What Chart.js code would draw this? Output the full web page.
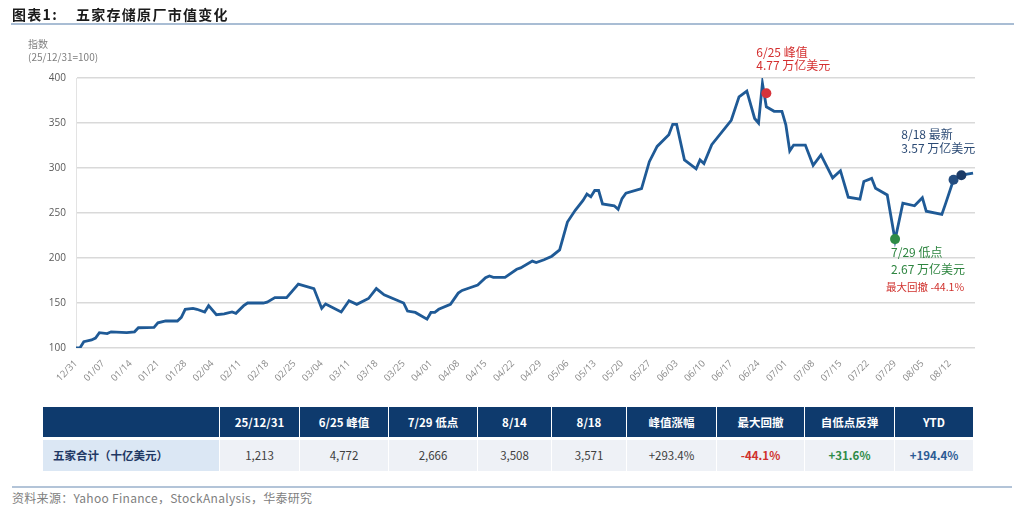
<!DOCTYPE html>
<html>
<head>
<meta charset="utf-8">
<script src="https://cdn.jsdelivr.net/npm/chart.js@4"></script>
<style>
  body { margin: 0; background: #fff; font-family: 'Noto Sans CJK SC', 'Noto Sans', sans-serif; }
  #page { position: relative; width: 1024px; height: 511px; overflow: hidden; }
  #title { position: absolute; left: 12px; top: 4px; font-size: 14px; font-weight: 700; color: #1a1a1a; letter-spacing: 1.3px; }
  #titleLine { position: absolute; left: 11px; top: 23px; width: 1003px; height: 2px; background: #a9bdd4; }
  #chartBox { position: absolute; left: 0; top: 0; width: 1024px; height: 400px; }
  #yTitle { position: absolute; left: 28px; top: 37px; font-size: 10px; line-height: 13px; color: #7f7f7f; }
  #dataTable { position: absolute; left: 42px; top: 403.5px; border-collapse: separate; border-spacing: 1px 3px; font-size: 11.5px; }
  #dataTable th { background: #0e3a6d; color: #fff; font-weight: 700; height: 30px; padding: 0; text-align: center; }
  #dataTable td { background: #eef1f6; color: #404040; height: 31px; padding: 0; text-align: center; }
  #dataTable td.rowHead { background: #dbe7f4; color: #1f3864; font-weight: 700; text-align: left; padding-left: 10px; }
  #dataTable td.neg { color: #d0312d; font-weight: 700; }
  #dataTable td.pos { color: #2e8b47; font-weight: 700; }
  #dataTable td.ytd { color: #2b5a94; font-weight: 700; }
  #bottomLine { position: absolute; left: 12px; top: 486px; width: 1000px; height: 2px; background: #b3c4d8; }
  #source { position: absolute; left: 12px; top: 489px; font-size: 12px; color: #808080; letter-spacing: 0.3px; }
</style>
</head>
<body>
<div id="page">
  <div id="chartBox"><canvas id="marketCapChart"></canvas></div>
  <div id="title">图表1:&nbsp;&nbsp;&nbsp; 五家存储原厂市值变化</div>
  <div id="titleLine"></div>
  <div id="yTitle">指数<br>(25/12/31=100)</div>
  <table id="dataTable">
    <thead><tr id="headRow"></tr></thead>
    <tbody><tr id="valueRow"></tr></tbody>
  </table>
  <div id="bottomLine"></div>
  <div id="source">资料来源：Yahoo Finance，StockAnalysis，华泰研究</div>
</div>
<script>
// days since 2025/12/31, index (25/12/31 = 100)
var days = [0, 1, 2, 4, 5, 6, 8, 9, 13, 15, 16, 20, 21, 23, 26, 27, 28, 30, 31, 33,
  34, 36, 38, 40, 41, 43, 44, 45, 48, 49, 51, 54, 57, 61, 63, 64, 68, 70, 72, 75,
  77, 79, 84, 85, 87, 90, 91, 92, 93, 96, 98, 99, 101, 103, 105, 106, 107, 110, 113, 114,
  117, 118, 120, 122, 124, 126, 128, 130, 131, 132, 133, 134, 135, 138, 139, 140, 141, 145, 147, 149,
  152, 153, 154, 156, 159, 160, 161, 163, 168, 170, 172, 174, 175, 176, 177, 179, 181, 182, 183, 184,
  187, 189, 191, 194, 196, 198, 201, 202, 204, 205, 208, 210, 212, 215, 217, 218, 222, 223, 225, 227, 230];
var indexValues = [100, 100, 107, 109, 111, 117, 116, 118, 117, 118, 122.5, 123, 128, 130, 130, 134, 143, 144, 143, 140,
  147, 137, 138, 140, 138.5, 147, 150, 150, 150, 151, 156, 156, 171, 166, 144, 149, 140, 152.5, 148.5, 155,
  166, 159, 150, 141, 139.5, 132, 139.5, 139.5, 143, 148.5, 161, 164, 167, 170, 178, 180, 178.5, 178.5, 187.5, 189,
  196.5, 195, 198, 202, 209, 240, 253, 264, 271, 268, 275, 275, 260, 258, 254, 266, 272, 277, 307, 324,
  337, 348.5, 348.5, 309, 299, 309, 305, 326, 353, 379, 385.5, 355, 350, 394, 368, 363, 363, 348, 319, 325.5,
  325.5, 303, 314.5, 289, 297, 267.5, 265.5, 285, 288.5, 277.5, 270, 220, 261, 258, 267, 252, 248.5, 261, 287, 292, 294.4];

var weekLabels = ['12/31', '01/07', '01/14', '01/21', '01/28', '02/04', '02/11', '02/18', '02/25', '03/04', '03/11',
  '03/18', '03/25', '04/01', '04/08', '04/15', '04/22', '04/29', '05/06', '05/13', '05/20', '05/27', '06/03',
  '06/10', '06/17', '06/24', '07/01', '07/08', '07/15', '07/22', '07/29', '08/05', '08/12'];

// highlighted points: peak, low, 8/14, 8/18
var markerDays = [177, 210, 225, 227];
var markerValues = [383, 221, 287, 292];

var tableHeads = ['', '25/12/31', '6/25 峰值', '7/29 低点', '8/14', '8/18', '峰值涨幅', '最大回撤', '自低点反弹', 'YTD'];
var tableValues = ['五家合计（十亿美元）', '1,213', '4,772', '2,666', '3,508', '3,571', '+293.4%', '-44.1%', '+31.6%', '+194.4%'];
var colWidths = [176, 79, 88, 88, 73, 74, 89, 87, 89, 78];
var cellClasses = ['rowHead', '', '', '', '', '', '', 'neg', 'pos', 'ytd'];

var notes = [
  { marker: 0, dx: -10, dy: [-41, -28], lines: ['6/25 峰值', '4.77 万亿美元'], color: '#d42f2f', size: 12 },
  { marker: 3, dx: -60, dy: [-41, -27], lines: ['8/18 最新', '3.57 万亿美元'], color: '#2b4a74', size: 12 },
  { marker: 1, dx: -4, dy: [13, 30], lines: ['7/29 低点', '2.67 万亿美元'], color: '#2e8540', size: 12 },
  { marker: 1, dx: -9, dy: [48], lines: ['最大回撤 -44.1%'], color: '#d0312d', size: 10.5 }
];

function buildTable() {
  var head = document.getElementById('headRow');
  var row = document.getElementById('valueRow');
  var h = '', r = '';
  tableHeads.forEach(function (t, i) {
    h += '<th style="width:' + colWidths[i] + 'px">' + t + '</th>';
    r += '<td class="' + cellClasses[i] + '">' + tableValues[i] + '</td>';
  });
  head.innerHTML = h;
  row.innerHTML = r;
}

var notePlugin = {
  id: 'notes',
  afterDatasetsDraw: function (chart) {
    var ctx = chart.ctx;
    var xs = chart.scales.x, ys = chart.scales.y;
    ctx.save();
    ctx.textBaseline = 'middle';
    ctx.textAlign = 'left';
    notes.forEach(function (n) {
      var px = xs.getPixelForValue(markerDays[n.marker]);
      var py = ys.getPixelForValue(markerValues[n.marker]);
      ctx.fillStyle = n.color;
      ctx.font = n.size + "px 'Noto Sans CJK SC', sans-serif";
      n.lines.forEach(function (line, i) {
        ctx.fillText(line, px + n.dx, py + n.dy[i]);
      });
    });
    ctx.restore();
  }
};

function initChart() {
  var lineData = days.map(function (d, i) { return { x: d, y: indexValues[i] }; });
  var markerData = markerDays.map(function (d, i) { return { x: d, y: markerValues[i] }; });

  new Chart(document.getElementById('marketCapChart'), {
    type: 'line',
    data: {
      datasets: [{
        label: 'markers',
        data: markerData,
        showLine: false,
        pointRadius: 5,
        pointBorderWidth: 0,
        pointBackgroundColor: ['#d6333a', '#2e8b47', '#244d80', '#1b3a66'],
      }, {
        label: '五家合计',
        data: lineData,
        borderColor: '#1f5a96',
        borderWidth: 2.8,
        pointRadius: 0,
        tension: 0,
        fill: false,
      }]
    },
    options: {
      responsive: true,
      maintainAspectRatio: false,
      animation: false,
      layout: { padding: { left: 20, right: 49, top: 78, bottom: 12 } },
      plugins: { legend: { display: false }, tooltip: { enabled: false } },
      scales: {
        x: {
          type: 'linear',
          min: 0,
          max: 230.5,
          grid: { display: false },
          border: { display: false },
          afterBuildTicks: function (scale) {
            scale.ticks = weekLabels.map(function (l, i) { return { value: i * 7 }; });
          },
          afterFit: function (scale) { scale.height = 40; },
          ticks: {
            autoSkip: false,
            minRotation: 45,
            maxRotation: 45,
            padding: 2,
            color: '#8a8a8a',
            font: { size: 9.5, family: "'Open Sans', sans-serif" },
            callback: function (v) { return weekLabels[Math.round(v / 7)]; }
          }
        },
        y: {
          min: 100,
          max: 400,
          afterFit: function (scale) { scale.width = 56; },
          grid: { color: '#d9d9d9', lineWidth: 1.5, drawTicks: false },
          border: { display: true, color: '#e3e3e3', width: 1 },
          ticks: {
            stepSize: 50,
            padding: 10,
            color: '#595959',
            font: { size: 10, family: "'Open Sans', sans-serif" }
          }
        }
      }
    },
    plugins: [notePlugin]
  });
}

document.addEventListener('DOMContentLoaded', function () {
  buildTable();
  initChart();
});
</script>
</body>
</html>
